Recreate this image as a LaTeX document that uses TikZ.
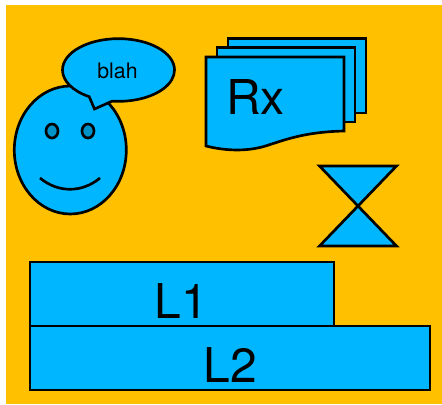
\documentclass[tikz,border=0pt]{standalone}
\usepackage{fontspec}
\setmainfont{TeX Gyre Heros}
\usepackage{xcolor}
\definecolor{amber}{HTML}{FFC000}
\definecolor{sky}{HTML}{00B7FF}
\definecolor{pupil}{HTML}{0093C9}
\usetikzlibrary{shapes.geometric,shapes.callouts}

\begin{document}
\begin{tikzpicture}[x=0.75pt,y=-0.75pt,
  shp/.style={draw=black,fill=sky,line width=2pt,line join=miter},
  box/.style={shp,rectangle,inner sep=0pt,outer sep=0pt},
  oval/.style={shp,ellipse,inner sep=0pt,outer sep=0pt},
  big/.style={anchor=base,inner sep=0pt,font=\fontsize{36}{36}\selectfont,text=black}]
  \useasboundingbox (0,0) rectangle (442,404);
  \fill[amber] (6,5) rectangle (442,404);
  % face
  \node[oval,minimum width=84pt,minimum height=96pt] (face) at (70.3,150){};
  \node[oval,fill=pupil,minimum width=9pt,minimum height=10.5pt] (eyeL) at (52,131){};
  \node[oval,fill=pupil,minimum width=9pt,minimum height=10.5pt] (eyeR) at (88,131){};
  \draw[line width=2pt] (40,178) .. controls (58,193) and (82,193) .. (100,178);
  \node[shp,ellipse callout,inner sep=0pt,outer sep=0pt,minimum width=84pt,minimum height=47pt,
        callout absolute pointer={(94.5,109)},callout pointer arc=25] (say) at (118.5,70){};
  \node[anchor=base,inner sep=0pt,font=\fontsize{16}{16}\selectfont] (blah) at (117.5,78){blah};
  % sheets
  \node[box,minimum width=103.5pt,minimum height=56pt] (sheet3) at (297,75.5){};
  \node[box,minimum width=103.5pt,minimum height=56pt] (sheet2) at (286,84.5){};
  \draw[shp] (206,57)--(344,57)--(344,131)
    .. controls (300,132) and (280,142) .. (262,147)
    .. controls (242,152) and (222,150) .. (206,146)--cycle;
  \node[big] (rx) at (255.5,114){Rx};
  % hourglass
  \draw[shp] (319.5,166)--(396.5,166)--(319.5,246)--(396.5,246)--cycle;
  % layers
  \node[box,minimum width=228pt,minimum height=48pt] (L1box) at (182,294){};
  \node[box,minimum width=300pt,minimum height=48pt] (L2box) at (230,358){};
  \node[big] (L1) at (181.5,318){L1};
  \node[big] (L2) at (230,382.5){L2};
\end{tikzpicture}
\end{document}
